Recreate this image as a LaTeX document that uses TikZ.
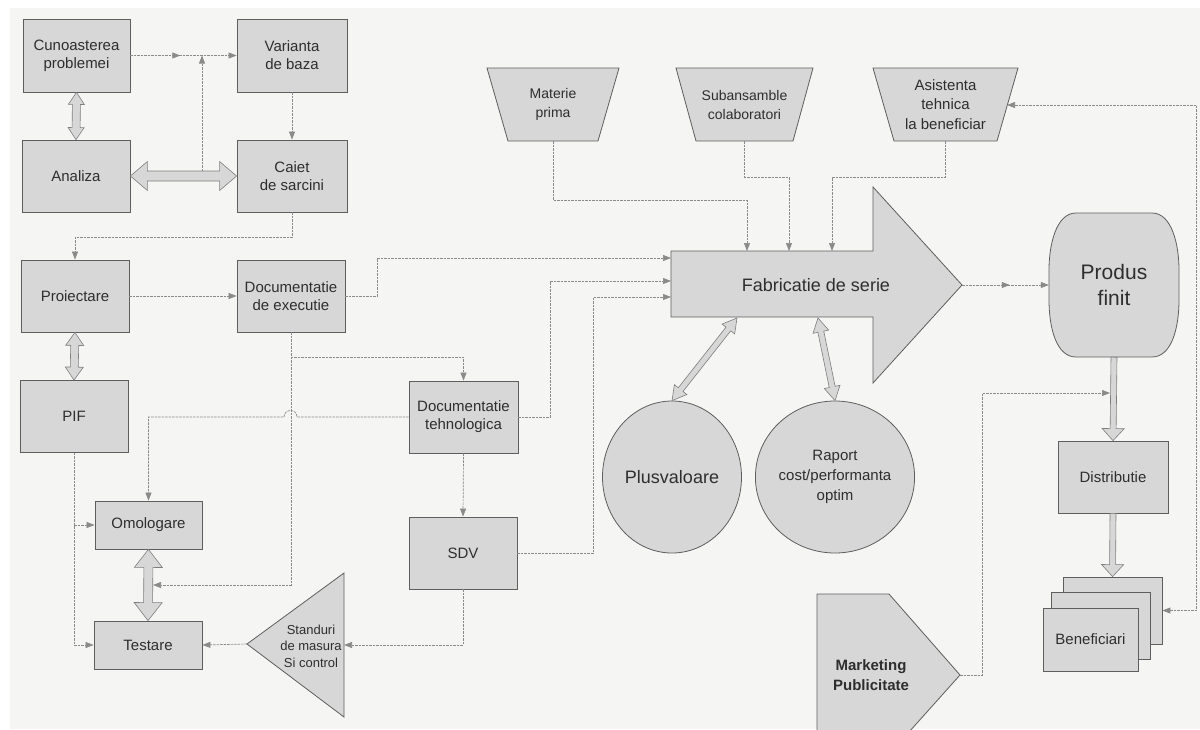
\documentclass[tikz,border=0pt]{standalone}
\usepackage{fontspec}
\setmainfont{Liberation Sans}
\usetikzlibrary{shapes.geometric,arrows.meta,calc,decorations.markings}
\definecolor{boxfill}{HTML}{D7D7D7}
\definecolor{boxline}{HTML}{5E5E5E}
\definecolor{conncol}{HTML}{8A8A8A}
\definecolor{txt}{HTML}{2E2E2E}
\definecolor{paper}{HTML}{F5F5F3}
\tikzset{
  box/.style={draw=boxline, fill=boxfill, line width=0.8pt, inner sep=0pt, align=center, text=txt, font=\fontsize{15}{18}\selectfont},
  label/.style={inner sep=0pt, align=center, text=txt, font=\fontsize{14}{19}\selectfont},
  shapefill/.style={draw=boxline, fill=boxfill, line width=0.8pt, line join=miter},
  fat/.style={draw=boxline!80, fill=boxfill, line width=0.6pt, line join=miter},
  tip/.tip={Triangle[length=8pt,width=6pt]},
  conn/.style={draw=conncol, line width=0.7pt, dash pattern=on 2.5pt off 1pt, -tip},
  conntwo/.style={draw=conncol, line width=0.7pt, dash pattern=on 2.5pt off 1pt, tip-tip},
  midarrow/.style={postaction={decorate, decoration={markings, mark=at position #1 with {\arrow{tip}}}}}
}
% double headed hollow arrow: #1 start, #2 end, #3 half shaft, #4 half head, #5 head length
\newcommand{\fatdbl}[5]{%
  \filldraw[fat] #1 -- ($#1!#5pt!#2!#4pt!90:#2$) -- ($#1!#5pt!#2!#3pt!90:#2$)
   -- ($#2!#5pt!#1!#3pt!-90:#1$) -- ($#2!#5pt!#1!#4pt!-90:#1$) -- #2
   -- ($#2!#5pt!#1!#4pt!90:#1$) -- ($#2!#5pt!#1!#3pt!90:#1$)
   -- ($#1!#5pt!#2!#3pt!-90:#2$) -- ($#1!#5pt!#2!#4pt!-90:#2$) -- cycle;}
% single headed hollow arrow
\newcommand{\fatsgl}[5]{%
  \filldraw[fat] ($#1!0pt!#2!#3pt!90:#2$)
   -- ($#2!#5pt!#1!#3pt!-90:#1$) -- ($#2!#5pt!#1!#4pt!-90:#1$) -- #2
   -- ($#2!#5pt!#1!#4pt!90:#1$) -- ($#2!#5pt!#1!#3pt!90:#1$)
   -- ($#1!0pt!#2!#3pt!-90:#2$) -- cycle;}
\begin{document}
\begin{tikzpicture}[x=1pt,y=-1pt]
\useasboundingbox (0,0) rectangle (1200,729);
\fill[white] (0,0) rectangle (1200,729);
\fill[paper] (10,8) rectangle (1200,729);

% ---------- boxes ----------
\node[box, minimum width=107, minimum height=73] (cun) at (76.5,55.5) {Cunoasterea\\problemei};
\node[box, minimum width=110, minimum height=73] (var) at (292,55.5) {Varianta\\de baza};
\node[box, minimum width=108, minimum height=72] (ana) at (76,176) {Analiza};
\node[box, minimum width=110, minimum height=72] (cai) at (292,176) {Caiet\\de sarcini};
\node[box, minimum width=108, minimum height=72] (pro) at (75,296) {Proiectare};
\node[box, minimum width=108, minimum height=72] (dex) at (291,296) {Documentatie\\de executie};
\node[box, minimum width=108, minimum height=72] (pif) at (74,416.5) {PIF};
\node[box, minimum width=109, minimum height=72] (dte) at (463.5,417) {Documentatie\\tehnologica};
\node[box, minimum width=107, minimum height=48] (omo) at (148.5,525) {Omologare};
\node[box, minimum width=108, minimum height=48] (tes) at (148,645) {Testare};
\node[box, minimum width=108, minimum height=72] (sdv) at (463,553) {SDV};
\node[box, minimum width=110, minimum height=72] (dis) at (1113,477) {Distributie};

% ---------- triangle Standuri ----------
\filldraw[shapefill] (247,644) -- (344,573) -- (344,717) -- cycle;
\node[label, font=\fontsize{13}{16.5}\selectfont] (std) at (311,646) {Standuri\\de masura\\Si control};
\coordinate (stdL) at (247,644);
\coordinate (stdR) at (344,645);

% ---------- trapezoids ----------
\filldraw[shapefill] (487,68) -- (619,68) -- (598,141) -- (508,141) -- cycle;
\node[label, minimum width=90, minimum height=73] (mat) at (553,104.5) {Materie\\prima};
\filldraw[shapefill] (676,68) -- (813,68) -- (793,141) -- (696,141) -- cycle;
\node[label, minimum width=97, minimum height=73] (sub) at (744.5,104.5) {Subansamble\\colaboratori};
\filldraw[shapefill] (873,68) -- (1018,68) -- (997,141) -- (894,141) -- cycle;
\node[label, font=\fontsize{15}{19.5}\selectfont, minimum width=103, minimum height=73] (asi) at (945.5,104.5) {Asistenta\\tehnica\\la beneficiar};
\coordinate (asiR) at (1007,105);

% ---------- Fabricatie arrow ----------
\filldraw[shapefill] (671,251) -- (873,251) -- (873,187) -- (962,285) -- (873,383) -- (873,317) -- (671,317) -- cycle;
\node[label, font=\fontsize{18}{21}\selectfont] (fab) at (816,285) {Fabricatie de serie};
\coordinate (fin1) at (671,258);
\coordinate (fin2) at (671,281);
\coordinate (fin3) at (671,297);
\coordinate (ft1) at (747,251);
\coordinate (ft2) at (789,251);
\coordinate (ft3) at (832,251);
\coordinate (ftip) at (962,285);
\coordinate (fb1) at (737,318);
\coordinate (fb2) at (818,318);

% ---------- circles ----------
\node[box, ellipse, minimum width=139, minimum height=152, font=\fontsize{18}{21}\selectfont] (plu) at (672,477) {Plusvaloare};
\node[box, ellipse, minimum width=137, minimum height=152, font=\fontsize{15}{20}\selectfont] (rap) at (835,477) {Raport\\cost/performanta\\optim};

% ---------- Produs finit (barrel shape) ----------
\filldraw[shapefill] (1076,213) -- (1152,213)
  .. controls (1172,213) and (1179,245) .. (1179,270) -- (1179,300)
  .. controls (1179,327) and (1172,357) .. (1152,357) -- (1076,357)
  .. controls (1056,357) and (1049,327) .. (1049,300) -- (1049,270)
  .. controls (1049,245) and (1056,213) .. (1076,213) -- cycle;
\node[label, minimum width=130, minimum height=144, font=\fontsize{21}{26}\selectfont] (prod) at (1114,285) {Produs\\finit};

% ---------- Beneficiari stack ----------
\node[box, minimum width=99, minimum height=67] (benb) at (1112.5,610.5) {};
\node[box, minimum width=99, minimum height=67] (benm) at (1100.5,625.5) {};
\node[box, minimum width=95, minimum height=63] (ben) at (1090.5,639.5) {Beneficiari};

% ---------- Marketing ----------
\begin{scope}
\clip (0,0) rectangle (1200,729);
\filldraw[shapefill] (817,760) -- (817,594) -- (889,594) -- (960,675) -- (875,770);
\end{scope}
\node[label, font=\fontsize{15}{20}\bfseries] (mkt) at (871,675) {Marketing\\Publicitate};
\coordinate (mkttip) at (960,675);

% ---------- hollow arrows ----------
\fatdbl{(cun.south)}{(ana.north)}{4}{8}{12}
\fatdbl{(ana.east)}{(cai.west)}{5}{14.5}{17}
\fatdbl{(pro.south)}{(pif.north)}{4}{9}{13}
\fatdbl{(omo.south)}{(tes.north)}{4.5}{14}{18}
\fatdbl{(fb1)}{(plu.north)}{3}{8}{14}
\fatdbl{(fb2)}{(rap.north)}{3}{8}{14}
\fatsgl{(prod.south)}{(dis.north)}{3}{11}{12}
\fatsgl{(dis.south)}{(benb.north)}{3}{11}{12}

% ---------- connectors ----------
\coordinate (j0) at (202,171);
\coordinate (j1) at (202,55.5);
\coordinate (j2) at (153,585);
\coordinate (j3) at (1110,393);
\draw[conn, midarrow=0.47] (cun.east) -- (var.west);
\draw[conn] (j0) -- (j1);
\draw[conn] (var.south) -- (cai.north);
\draw[conn] (cai.south) -- ++(0,25) -| (pro.north);
\draw[conn] (pro.east) -- (dex.west);
\draw[conn] (dex.east) -- ++(32,0) |- (fin1);
\draw[conn] (dex.south) -- ++(0,25) -| (dte.north);
\draw[conn] (dex.south) |- (j2);
\draw[conn] (dte.west) -- (297,417) to[out=90,in=90,looseness=1.7] (284,417) -| (omo.north);
\draw[conn] (pif.south) |- (tes.west);
\draw[conn] (pif.south |- omo.west) -- (omo.west);
\draw[conn] (stdL) -- (tes.east);
\draw[conn] (sdv.south) |- (stdR);
\draw[conn] (dte.south) -- (sdv.north);
\draw[conn] (dte.east) -- ++(32,0) |- (fin2);
\draw[conn] (sdv.east) -- ++(76,0) |- (fin3);
\draw[conn] (mat.south) -- ++(0,59) -| (ft1);
\draw[conn] (sub.south) -- ++(0,36) -| (ft2);
\draw[conn] (asi.south) -- ++(0,36) -| (ft3);
\draw[conn, midarrow=0.55] (ftip) -- (prod.west);
\draw[conn] (mkttip) -- ++(22,0) |- (j3);
\draw[conntwo] (benb.east) -- ++(34,0) |- (asiR);
\end{tikzpicture}
\end{document}
